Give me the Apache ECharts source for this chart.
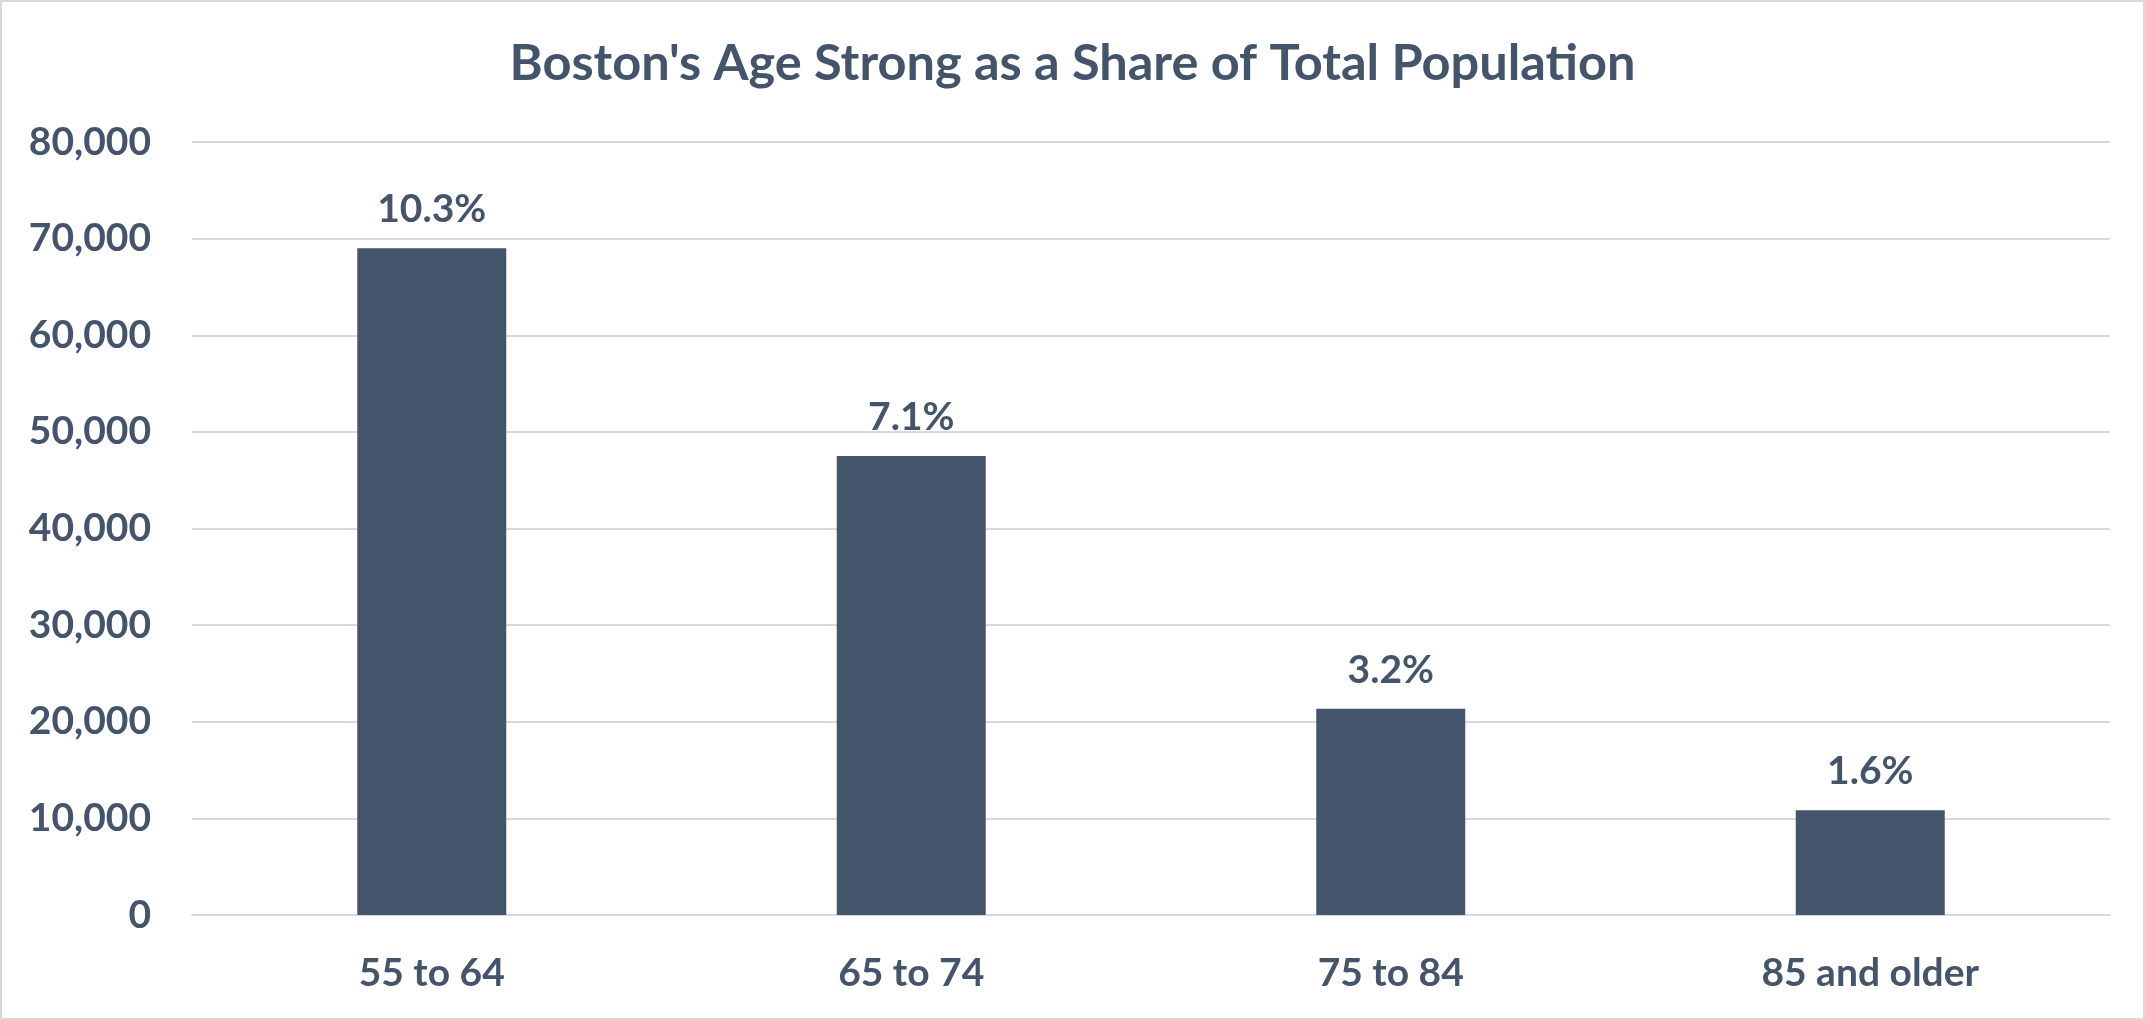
<!DOCTYPE html>
<html>
<head>
<meta charset="utf-8">
<script src="https://cdn.jsdelivr.net/npm/echarts@6/dist/echarts.min.js"></script>
<style>
  html, body { margin: 0; padding: 0; background: #ffffff; }
  #chart { width: 2145px; height: 1020px; box-sizing: border-box; border: 2px solid #d9d9d9; }
</style>
</head>
<body>
<div id="chart"></div>
<script>
const titleText = "Boston's Age Strong as a Share of Total Population";
const categories = ['55 to 64', '65 to 74', '75 to 84', '85 and older'];
const population = [69000, 47500, 21350, 10850];
const shareLabels = ['10.3%', '7.1%', '3.2%', '1.6%'];
const yTicks = { min: 0, max: 80000, interval: 10000 };

const textColor = '#44546A';
const fontFamily = 'Lato, "Open Sans", sans-serif';

const chart = echarts.init(document.getElementById('chart'), null, { renderer: 'canvas' });
chart.setOption({
  animation: false,
  backgroundColor: '#ffffff',
  title: {
    text: titleText,
    left: 'center',
    top: 31,
    textStyle: { color: textColor, fontFamily: fontFamily, fontWeight: 'bold', fontSize: 50.5 }
  },
  grid: { left: 190, right: 33, top: 140, bottom: 103, containLabel: false },
  xAxis: {
    type: 'category',
    data: categories,
    axisLine: { show: true, lineStyle: { color: '#d9d9d9', width: 2 } },
    axisTick: { show: false },
    axisLabel: { color: textColor, fontFamily: fontFamily, fontWeight: 'bold', fontSize: 39, margin: 39 }
  },
  yAxis: {
    type: 'value',
    min: yTicks.min,
    max: yTicks.max,
    interval: yTicks.interval,
    axisLine: { show: false },
    axisTick: { show: false },
    splitLine: { lineStyle: { color: '#d9d9d9', width: 2 } },
    axisLabel: {
      color: textColor, fontFamily: fontFamily, fontWeight: 'bold', fontSize: 39, margin: 41,
      formatter: v => v.toLocaleString('en-US')
    }
  },
  series: [{
    type: 'bar',
    data: population,
    barWidth: 149,
    itemStyle: { color: '#44546A' },
    label: {
      show: true,
      position: 'top',
      distance: 19,
      color: textColor, fontFamily: fontFamily, fontWeight: 'bold', fontSize: 39,
      formatter: p => shareLabels[p.dataIndex]
    }
  }]
});
</script>
</body>
</html>
